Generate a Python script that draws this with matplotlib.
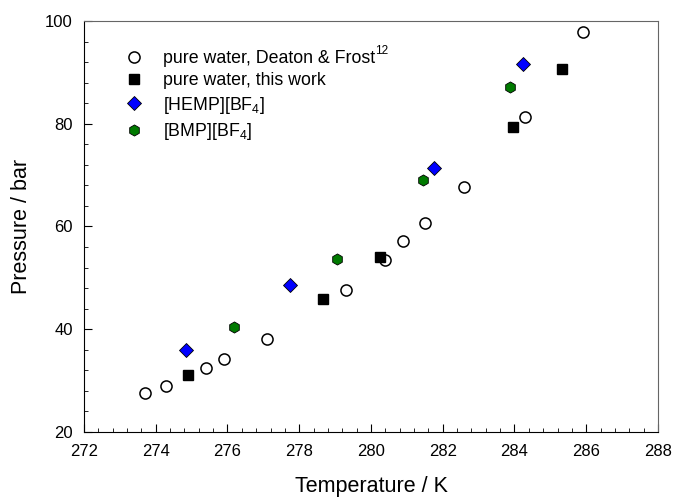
import matplotlib
matplotlib.use('Agg')
import matplotlib.pyplot as plt
from matplotlib.ticker import MultipleLocator

plt.rcParams['font.family'] = ['Liberation Sans', 'DejaVu Sans']
plt.rcParams['mathtext.fontset'] = 'custom'
plt.rcParams['mathtext.rm'] = 'Liberation Sans'
plt.rcParams['mathtext.it'] = 'Liberation Sans'

# pure water, Deaton & Frost
lit_T = [273.7, 274.3, 275.4, 275.9, 277.1, 279.3, 280.4, 280.9, 281.5, 282.6, 284.3, 285.9]
lit_P = [27.65, 29.0, 32.4, 34.2, 38.1, 47.7, 53.5, 57.1, 60.6, 67.75, 81.4, 97.9]

# pure water, this work
pw_T = [274.9, 278.65, 280.25, 283.95, 285.33]
pw_P = [31.0, 45.9, 54.05, 79.3, 90.6]

# [HEMP][BF4]
hemp_T = [274.85, 277.75, 281.75, 284.23]
hemp_P = [36.0, 48.55, 71.3, 91.6]

# [BMP][BF4]
bmp_T = [276.17, 279.05, 281.46, 283.87]
bmp_P = [40.4, 53.6, 69.05, 87.2]

fig = plt.figure(figsize=(6.74, 4.99), dpi=100)
ax = fig.add_axes([0.1246, 0.1343, 0.8516, 0.8236])

ax.plot(lit_T, lit_P, 'o', ms=8, mfc='white', mec='black', mew=1.1,
        label='pure water, Deaton & Frost')
ax.plot(pw_T, pw_P, 's', ms=7, mfc='black', mec='black',
        label='pure water, this work')
ax.plot(hemp_T, hemp_P, 'D', ms=7.5, mfc='#0000ff', mec='black', mew=0.6,
        label=r'[HEMP][BF$_4$]')
ax.plot(bmp_T, bmp_P, 'h', ms=8, mfc='#007a00', mec='black', mew=0.6,
        label=r'[BMP][BF$_4$]')

ax.set_xlim(272, 288)
ax.set_ylim(20, 100)
ax.xaxis.set_major_locator(MultipleLocator(2))
ax.xaxis.set_minor_locator(MultipleLocator(0.4))
ax.yaxis.set_major_locator(MultipleLocator(20))
ax.yaxis.set_minor_locator(MultipleLocator(4))
ax.tick_params(which='both', direction='in', top=False, right=False, labelsize=12)
ax.tick_params(which='major', length=6)
ax.tick_params(which='minor', length=3)
ax.tick_params(axis='x', pad=9)
ax.tick_params(axis='y', pad=8)
for s in ['top', 'right']:
    ax.spines[s].set_color('#666666')

ax.set_xlabel('Temperature / K', fontsize=15.5, labelpad=12)
ax.set_ylabel('Pressure / bar', fontsize=15.5, labelpad=9.5)

leg = ax.legend(loc='upper left', frameon=False, fontsize=12.8, bbox_to_anchor=(0.043, 0.947),
                handletextpad=0.65, labelspacing=0.3, borderaxespad=0)

# reference number as superscript after the first legend entry
fig.canvas.draw()
bb = leg.get_texts()[0].get_window_extent()
ax.annotate('12', xy=(bb.x1, bb.y1), xycoords='figure pixels',
            xytext=(0.3, 3.5), textcoords='offset points',
            fontsize=8.5, ha='left', va='top')

fig.savefig('out.png', dpi=100)
